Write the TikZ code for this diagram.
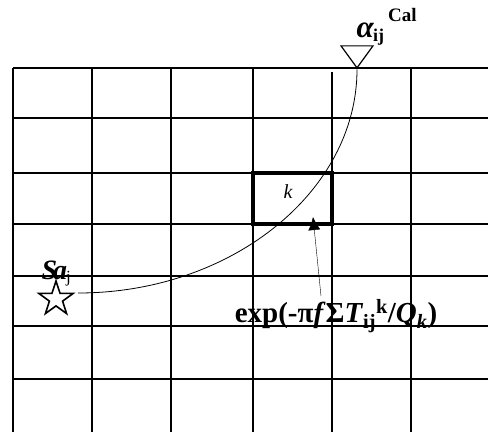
\documentclass[tikz,border=0pt]{standalone}
\usepackage{fontspec}
\setmainfont{Liberation Serif}
\usetikzlibrary{shapes.geometric,arrows.meta}

\begin{document}
\begin{tikzpicture}[x=1pt,y=-1pt,
  gridline/.style={line width=1.4pt},
  cellline/.style={line width=3.6pt},
  ray/.style={line width=0.8pt},
  pointer/.style={line width=0.4pt,-{Latex[length=13pt,width=12pt]}}]
\useasboundingbox (0,0) rectangle (488,432);
% grid
\foreach \x in {13,92,171,253,411}
  \draw[gridline] (\x,68) -- (\x,432);
\draw[gridline] (332,72) -- (332,432);
\foreach \y in {68,118,173,224,276,326,379}
  \draw[gridline] (13,\y) -- (488,\y);
% cell k
\node[minimum width=79pt,minimum height=51pt,inner sep=0pt] (cellk) at (292.5,198.5) {};
\draw[cellline] (cellk.south west) rectangle (cellk.north east);
\node[font=\fontsize{20}{20}\selectfont\itshape] (klab) at (288,192) {k};
% source and receiver
\node[star,star points=5,star point ratio=2.6,draw,line width=1.6pt,minimum size=36pt,inner sep=0pt,fill=white] (src) at (56,299) {};
\node[isosceles triangle,isosceles triangle stretches,shape border rotate=270,draw,line width=1.2pt,
  minimum width=32pt,minimum height=22pt,inner sep=0pt,fill=white] (rec) at (357,54) {};
\coordinate (srcend) at (78,293);
\coordinate (tip) at (313,217);
\draw[ray] (rec.apex) .. controls (357,191) and (232,293) .. (srcend);
% labels
\node[font=\fontsize{28}{28}\selectfont\bfseries\itshape,anchor=base west] (salab) at (38,279) {S\kern-4pt a\kern-1pt\raisebox{-3pt}{\fontsize{17}{17}\selectfont\mdseries\upshape j}};
\node[font=\bfseries,anchor=base west] (callab) at (353,37) {{\fontsize{31}{31}\selectfont\textit{α}}\kern-1pt\raisebox{-4pt}{\fontsize{18}{18}\selectfont ij}\kern4pt\raisebox{16pt}{\fontsize{19}{19}\selectfont Cal}};
\node[font=\fontsize{29}{31}\selectfont\bfseries] (att) at (336,316) {exp(-π\textit{f}Σ\textit{T}\textsubscript{ij}\textsuperscript{k}/\textit{Q}\textsubscript{\textit{k}})};
\draw[pointer] ([xshift=-15pt]att.north) -- (tip);
\end{tikzpicture}
\end{document}
